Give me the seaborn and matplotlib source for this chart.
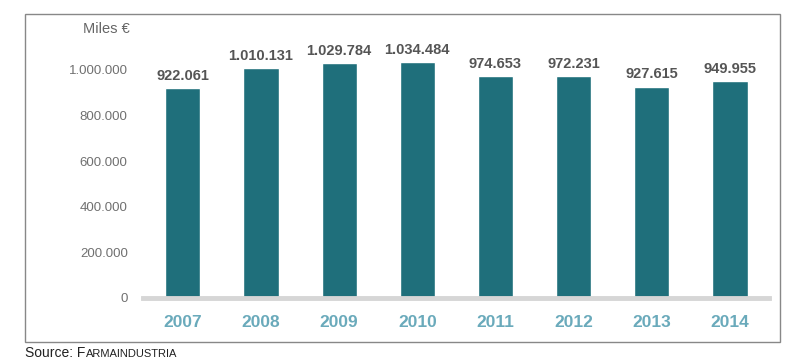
import pandas as pd
import seaborn as sns
import matplotlib.pyplot as plt
from matplotlib.patches import Rectangle

# datos
years = ['2007', '2008', '2009', '2010', '2011', '2012', '2013', '2014']
values = [922061, 1010131, 1029784, 1034484, 974653, 972231, 927615, 949955]
yticks = [0, 200000, 400000, 600000, 800000, 1000000]

def fmt(v):
    return f'{v:,}'.replace(',', '.')

df = pd.DataFrame({'year': years, 'value': values})

sns.set_style('white')
plt.rcParams['font.family'] = ['Liberation Sans', 'DejaVu Sans']

fig = plt.figure(figsize=(7.98, 3.62), dpi=100)
ax = fig.add_axes([143 / 798, 1 - 298 / 362, (769 - 143) / 798, (298 - 45) / 362])

sns.barplot(data=df, x='year', y='value', color='#1f6f7b', saturation=1,
            width=0.45, ax=ax)

for i, v in enumerate(values):
    ax.text(i, v + 22000, fmt(v), ha='center', va='bottom',
            fontsize=10.5, fontweight='bold', color='#555555')

ax.set_xlim(-0.51, 7.5)
ax.set_ylim(0, 1109649)
ax.set_yticks(yticks)
ax.set_yticklabels([fmt(t) for t in yticks], color='#707070', fontsize=9.5)
ax.tick_params(axis='y', length=0, pad=11)
ax.tick_params(axis='x', length=0, pad=12, labelsize=12.5, labelcolor='#6aaabb')
for lab in ax.get_xticklabels():
    lab.set_fontweight('bold')
ax.set_xlabel('')
ax.set_ylabel('')
for s in ['top', 'right', 'left']:
    ax.spines[s].set_visible(False)
ax.spines['bottom'].set_color('#d6d6d6')
ax.spines['bottom'].set_linewidth(3.5)

fig.text(130 / 798, 1 - 29 / 362, 'Miles €', ha='right', va='center',
         fontsize=10.5, color='#666666')

# marco
fig.patches.append(Rectangle((25 / 798, 1 - 342 / 362), 755 / 798, 328 / 362,
                             transform=fig.transFigure, fill=False,
                             edgecolor='#888888', linewidth=1))

t1 = fig.text(25 / 798, 1 - 357 / 362, 'Source: F', ha='left', va='baseline',
              fontsize=10, color='#222222')
fig.canvas.draw()
bb = t1.get_window_extent()
fig.text(bb.x1 / 798 + 0.5 / 798, 1 - 357 / 362, 'ARMAINDUSTRIA', ha='left',
         va='baseline', fontsize=8, color='#222222')

fig.savefig('out.png', dpi=100)
